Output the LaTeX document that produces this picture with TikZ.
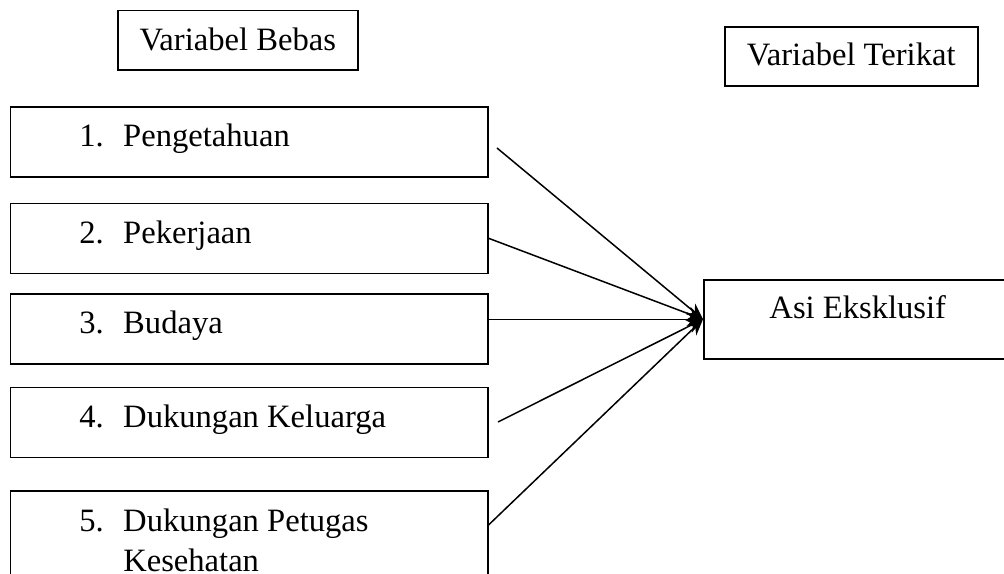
\documentclass[tikz,border=0pt]{standalone}
\usepackage{fontspec}
\setmainfont{Liberation Serif}
\usepackage{tikz}
\usetikzlibrary{arrows.meta,positioning}
\tikzset{
  >={Stealth[length=8pt,width=7pt]},
  var/.style={draw, line width=0.75pt, inner sep=0pt, align=center},
  item/.style={draw, line width=0.75pt, inner sep=0pt, text width=238.75pt, align=flush left, text height=20pt, text depth=15pt},
  link/.style={->, line width=0.75pt},
}
\newcommand{\itemno}[1]{\hspace*{34.5pt}\makebox[22pt][l]{#1}}

\begin{document}
\begin{tikzpicture}[x=0.5pt, y=-0.5pt, font=\fontsize{16.3}{20}\selectfont]
  \useasboundingbox (0,0) rectangle (1004,573);

  \node[var, minimum width=120pt, text height=20.25pt, text depth=9.5pt, anchor=north west] (bebas) at (117,9.5) {Variabel Bebas};
  \node[var, minimum width=126.5pt, text height=19.5pt, text depth=10pt, anchor=north west] (terikat) at (724,26) {Variabel Terikat};

  \node[item, anchor=north west] (b1) at (9.5,106) {\itemno{1.}Pengetahuan};
  \node[item, below=12.5pt of b1] (b2) {\itemno{2.}Pekerjaan};
  \node[item, below=9.5pt of b2] (b3) {\itemno{3.}Budaya};
  \node[item, below=11pt of b3] (b4) {\itemno{4.}Dukungan Keluarga};
  \node[item, below=16pt of b4, text height=20.5pt, text depth=60pt] (b5) {\itemno{5.}Dukungan Petugas\\\hspace*{56.5pt}Kesehatan};

  \node[var, minimum width=154pt, text height=19.5pt, text depth=20pt, anchor=north west] (asi) at (703,279) {Asi Eksklusif};

  \coordinate (s1) at (497,148);
  \coordinate (s4) at (498,422);

  \draw[link] (s1) -- (asi.west);
  \draw[link] (b2.east) -- (asi.west);
  \draw[link] (b3.east |- asi.west) -- (asi.west);
  \draw[link] (s4) -- (asi.west);
  \draw[link] ([yshift=-17.5pt]b5.north east) -- (asi.west);
\end{tikzpicture}
\end{document}
